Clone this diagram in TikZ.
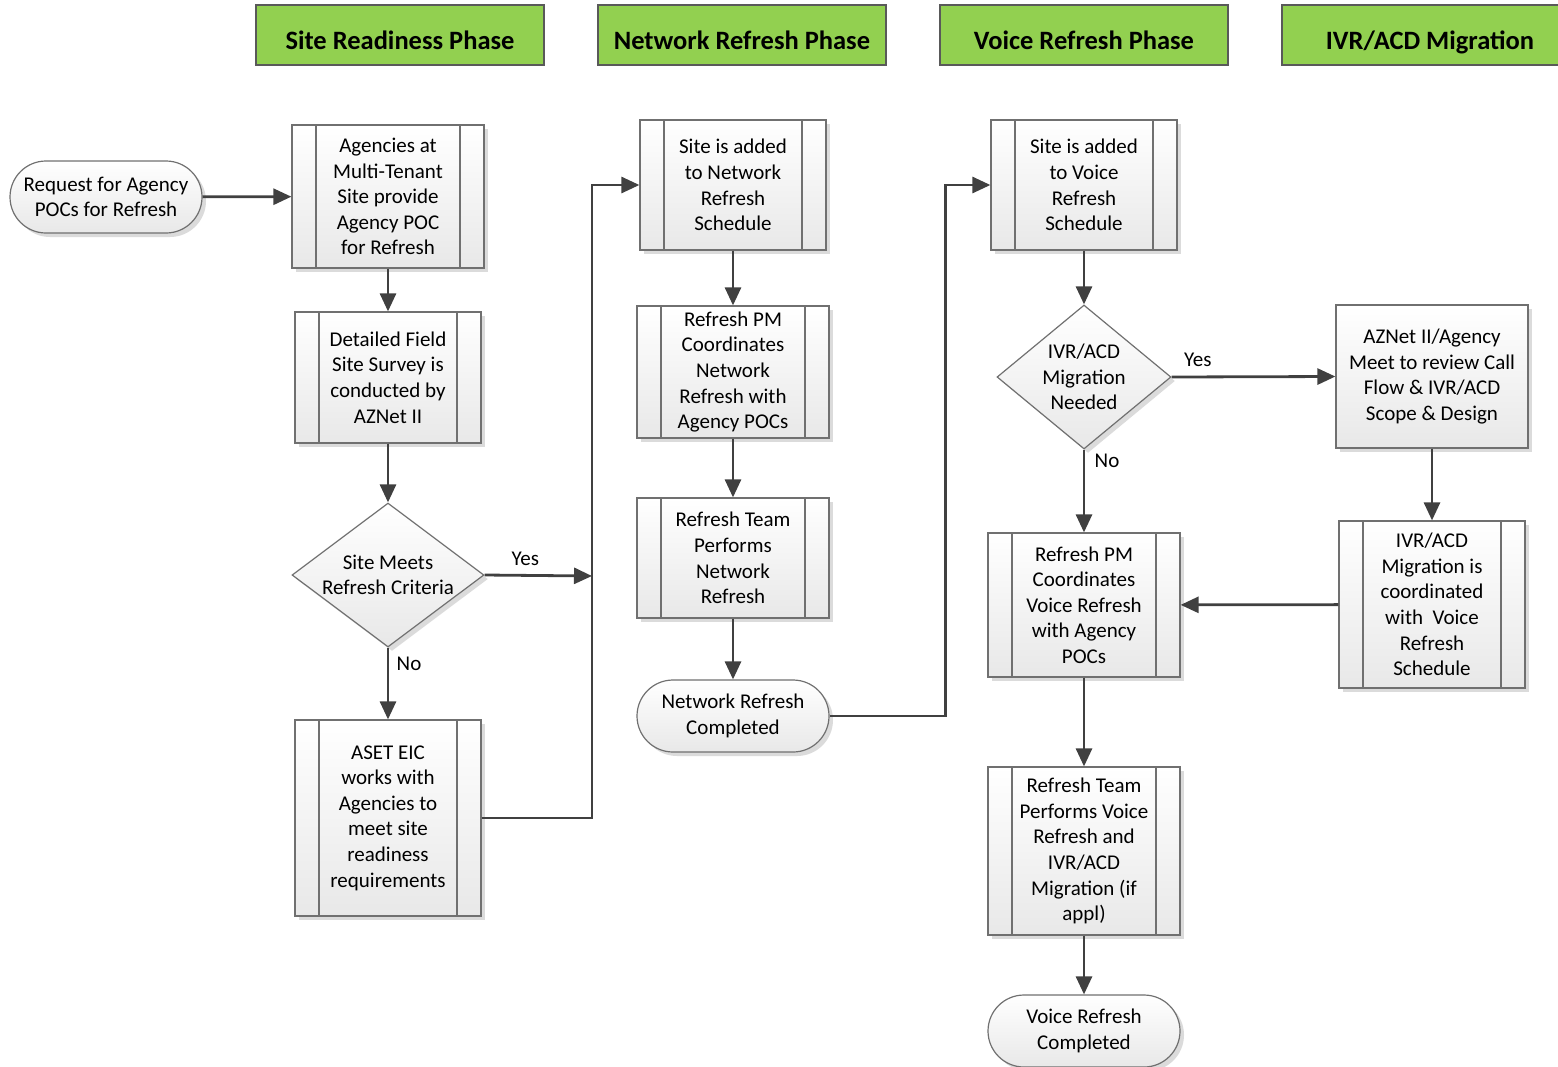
\documentclass[tikz,border=0pt]{standalone}
\usepackage{fontspec}
\setmainfont{Carlito}
\usetikzlibrary{shapes.geometric,arrows.meta,shadows}

\definecolor{hdrgreen}{HTML}{92D050}
\definecolor{darkline}{HTML}{404040}
\definecolor{boxline}{HTML}{707070}

\tikzset{
  hdr/.style={draw=black!65, line width=1.5pt, fill=hdrgreen, minimum width=288pt, minimum height=60pt, text height=29pt, text depth=0pt, font=\fontsize{26.5}{30}\selectfont\bfseries},
  box/.style={draw=boxline, line width=1.2pt, top color=white, bottom color=black!9, align=center, inner sep=0pt,
    drop shadow={shadow xshift=4pt, shadow yshift=-4pt, fill=black!14, opacity=1}},
  proc/.style={box, path picture={
    \draw[boxline, line width=1.2pt] ([xshift=24pt]path picture bounding box.north west) -- ([xshift=24pt]path picture bounding box.south west);
    \draw[boxline, line width=1.2pt] ([xshift=-24pt]path picture bounding box.north east) -- ([xshift=-24pt]path picture bounding box.south east);}},
  term/.style={box, rounded corners=36pt, minimum width=192pt, minimum height=72pt},
  decide/.style={box, shape=diamond, aspect=1.33, minimum width=192pt, minimum height=144pt},
  flow/.style={line width=2.8pt, draw=darkline, -{Triangle[length=18pt,width=16pt]}},
}

\begin{document}
\begin{tikzpicture}[x=1pt, y=-1pt, font=\fontsize{21}{25.6}\selectfont]
\useasboundingbox (0,0) rectangle (1558,1066);

\node[hdr] (h1) at (400,35) {Site Readiness Phase};
\node[hdr] (h2) at (742,35) {Network Refresh Phase};
\node[hdr] (h3) at (1084,35) {Voice Refresh Phase};
\node[hdr, minimum width=296pt] (h4) at (1430,35) {IVR/ACD Migration};

\node[term] (0) at (106,197) {Request for Agency\\POCs for Refresh};
\node[proc, minimum width=192pt, minimum height=143pt] (1) at (388,196.5) {Agencies at\\Multi-Tenant\\Site provide\\Agency POC\\for Refresh};
\node[proc, minimum width=186pt, minimum height=131pt] (2) at (388,377.5) {Detailed Field\\Site Survey is\\conducted by\\AZNet II};
\node[decide] (3) at (388,575) {Site Meets\\Refresh Criteria};
\node[proc, minimum width=186pt, minimum height=196pt] (4) at (388,818) {ASET EIC\\works with\\Agencies to\\meet site\\readiness\\requirements};

\node[proc, minimum width=186pt, minimum height=130pt] (5) at (733,185) {Site is added\\to Network\\Refresh\\Schedule};
\node[proc, minimum width=192pt, minimum height=132pt] (6) at (733,372) {Refresh PM\\Coordinates\\Network\\Refresh with\\Agency POCs};
\node[proc, minimum width=192pt, minimum height=120pt] (7) at (733,558) {Refresh Team\\Performs\\Network\\Refresh};
\node[term] (8) at (733,716) {Network Refresh\\Completed};

\node[proc, minimum width=186pt, minimum height=130pt] (9) at (1084,185) {Site is added\\to Voice\\Refresh\\Schedule};
\node[decide, minimum width=174pt] (10) at (1084,377) {IVR/ACD\\Migration\\Needed};
\node[proc, minimum width=192pt, minimum height=144pt] (11) at (1084,605) {Refresh PM\\Coordinates\\Voice Refresh\\with Agency\\POCs};
\node[proc, minimum width=192pt, minimum height=168pt] (12) at (1084,851) {Refresh Team\\Performs Voice\\Refresh and\\IVR/ACD\\Migration (if\\appl)};
\node[term] (13) at (1084,1031) {Voice Refresh\\Completed};

\node[box, minimum width=192pt, minimum height=143pt] (14) at (1432,376.5) {AZNet II/Agency\\Meet to review Call\\Flow \& IVR/ACD\\Scope \& Design};
\node[proc, minimum width=186pt, minimum height=167pt] (15) at (1432,604.5) {IVR/ACD\\Migration is\\coordinated\\with~ Voice\\Refresh\\Schedule};

\coordinate (j1) at (592,576);

\draw[flow] (0) -- (1);
\draw[flow] (1) -- (2);
\draw[flow] (2) -- (3);
\draw[flow] (3.east) -- node[pos=0.38, above=5pt] {Yes} (j1);
\draw[flow] (3.south) -- node[pos=0.23, right=4pt] {No} (4.north);
\draw[flow] (4.east) -| (j1) |- (5.west);

\draw[flow] (5) -- (6);
\draw[flow] (6) -- (7);
\draw[flow] (7) -- (8);
\draw[flow] (8.east) -- ++(116,0) |- (9.west);

\draw[flow] (9) -- (10);
\draw[flow] (10.east) -- node[pos=0.16, above=6pt] {Yes} (14.west);
\draw[flow] (10.south) -- node[pos=0.13, right=6pt] {No} (11.north);
\draw[flow] (14) -- (15);
\draw[flow] (15) -- (11);
\draw[flow] (11) -- (12);
\draw[flow] (12) -- (13);

\end{tikzpicture}
\end{document}
